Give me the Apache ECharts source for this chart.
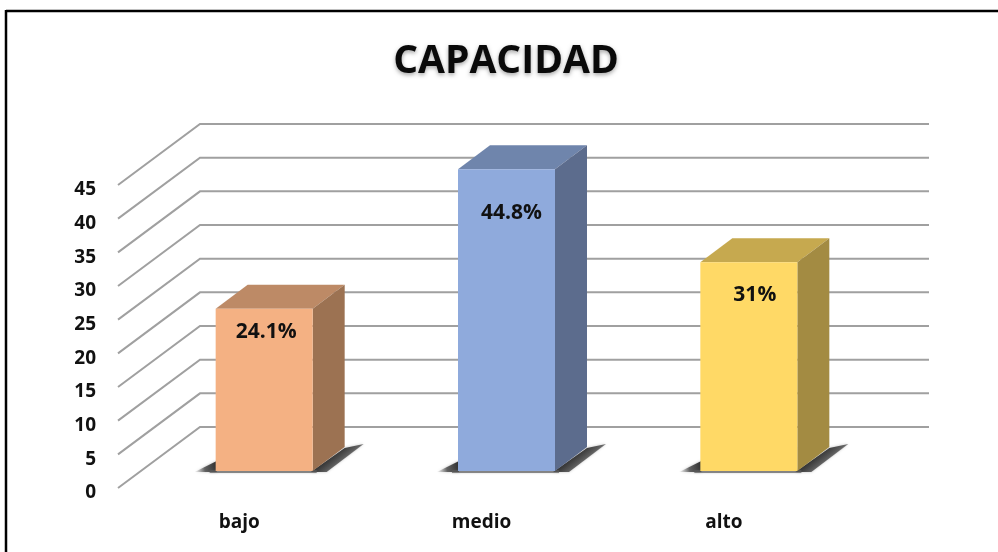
<!DOCTYPE html>
<html><head><meta charset="utf-8">
<style>html,body{margin:0;padding:0;background:#fff}#c{width:998px;height:552px}</style>
<script src="https://cdn.jsdelivr.net/npm/echarts@6/dist/echarts.min.js"></script>
</head><body><div id="c"></div>
<script>
const categories = ['bajo', 'medio', 'alto'];
const values = [24.1, 44.8, 31];
const yTicks = [0, 5, 10, 15, 20, 25, 30, 35, 40, 45];
const frontColors = ['#F4B183', '#8FAADC', '#FFD966'];
const topColors = ['#BD8A66', '#6F85AC', '#C6A94F'];
const sideColors = ['#9C7252', '#5C6C8D', '#A38B42'];
const labelDrops = [23, 44, 33];
const labelShifts = [2, 5, 6];

const FONT = '"Open Sans", "Noto Sans", sans-serif';
const WALL = [82, -61], BAR_SHIFT = [25, -17], BAR_DEPTH = [32, -24], BAR_W = 97;

function renderGrid(params, api) {
  const v = api.value(0), cs = params.coordSys;
  const y = api.coord([0, v])[1], x = cs.x;
  return {type: 'polyline', silent: true, shape: {points: [[x, y], [x + WALL[0], y + WALL[1]], [x + cs.width + WALL[0] + 2, y + WALL[1]]]},
    style: {fill: null, stroke: '#A0A0A0', lineWidth: 2}};
}
function renderBar(params, api) {
  const i = params.dataIndex, v = api.value(1);
  const p = api.coord([i, v]), b = api.coord([i, 0]);
  const x0 = b[0] + BAR_SHIFT[0] - BAR_W / 2, x1 = x0 + BAR_W;
  const yB = b[1] + BAR_SHIFT[1], yT = p[1] + BAR_SHIFT[1];
  const dx = BAR_DEPTH[0], dy = BAR_DEPTH[1];
  const grad = (x, y, x2, y2) => ({type: 'linear', x, y, x2, y2, colorStops: [
    {offset: 0, color: 'rgba(40,40,40,0.95)'}, {offset: 0.55, color: 'rgba(70,70,70,0.8)'}, {offset: 1, color: 'rgba(130,130,130,0.1)'}]});
  const soft = {shadowBlur: 3, shadowColor: 'rgba(90,90,90,0.45)'};
  return {type: 'group', children: [
    {type: 'polygon', silent: true, shape: {points: [[x1 - 2, yB + 1], [x1 + dx, yB + dy + 1], [x1 + dx + 19, yB + dy - 3], [x1 + 14, yB + 1]]},
      style: {fill: grad(0.3, 0.55, 0.51, 1.05), ...soft}},
    {type: 'polygon', silent: true, shape: {points: [[x0 - 21, yB + 1], [x0 + 1, yB - 10], [x0 + 1, yB + 1]]},
      style: {fill: grad(1, 0.4, 0, 0.8), ...soft}},
    {type: 'rect', silent: true, shape: {x: x0 - 6, y: yB - 1, width: BAR_W + 10, height: 3}, style: {fill: 'rgba(90,90,90,0.65)', shadowBlur: 2, shadowColor: 'rgba(90,90,90,0.5)'}},
    {type: 'polygon', shape: {points: [[x0, yT], [x0 + dx, yT + dy], [x1 + dx, yT + dy], [x1, yT]]}, style: {fill: topColors[i]}},
    {type: 'polygon', shape: {points: [[x1, yT], [x1 + dx, yT + dy], [x1 + dx, yB + dy], [x1, yB]]}, style: {fill: sideColors[i]}},
    {type: 'rect', shape: {x: x0, y: yT, width: BAR_W, height: yB - yT}, style: {fill: frontColors[i]}},
    {type: 'text', silent: true, style: {x: x0 + BAR_W / 2 + labelShifts[i], y: yT + labelDrops[i], text: v + '%', fill: '#111',
      font: 'bold 21px ' + FONT, textAlign: 'center', textVerticalAlign: 'middle'}}
  ]};
}
const chart = echarts.init(document.getElementById('c'), null, {renderer: 'canvas'});
chart.setOption({
  animation: false,
  backgroundColor: '#fff',
  title: {text: 'CAPACIDAD', left: 501, top: 37, textAlign: 'center',
    textStyle: {fontFamily: FONT, fontSize: 39, fontWeight: 'bold', color: '#0a0a0a',
      textShadowColor: 'rgba(0,0,0,0.35)', textShadowBlur: 4, textShadowOffsetY: 2}},
  grid: {left: 118, top: 185, width: 727, height: 303},
  xAxis: {type: 'category', data: categories, axisLine: {show: false}, axisTick: {show: false},
    axisLabel: {margin: 25, fontFamily: FONT, fontSize: 19, fontWeight: 'bold', color: '#111'}},
  yAxis: {type: 'value', min: 0, max: 45, interval: 5, splitLine: {show: false}, axisLine: {show: false}, axisTick: {show: false},
    axisLabel: {margin: 22, verticalAlign: 'top', lineHeight: 10, fontFamily: FONT, fontSize: 19, fontWeight: 'bold', color: '#111'}},
  series: [
    {type: 'custom', name: 'rejilla', renderItem: renderGrid, data: yTicks.map(t => [t]), encode: {y: 0}, z: 1, silent: true},
    {type: 'custom', name: 'CAPACIDAD', renderItem: renderBar, data: values.map((v, i) => [i, v]), encode: {x: 0, y: 1}, z: 2}
  ],
  graphic: [
    {type: 'line', shape: {x1: 6, y1: 11, x2: 998, y2: 11}, style: {stroke: '#000', lineWidth: 2.5}},
    {type: 'line', shape: {x1: 6, y1: 10, x2: 6, y2: 552}, style: {stroke: '#000', lineWidth: 2.5}}
  ]
});
</script></body></html>
